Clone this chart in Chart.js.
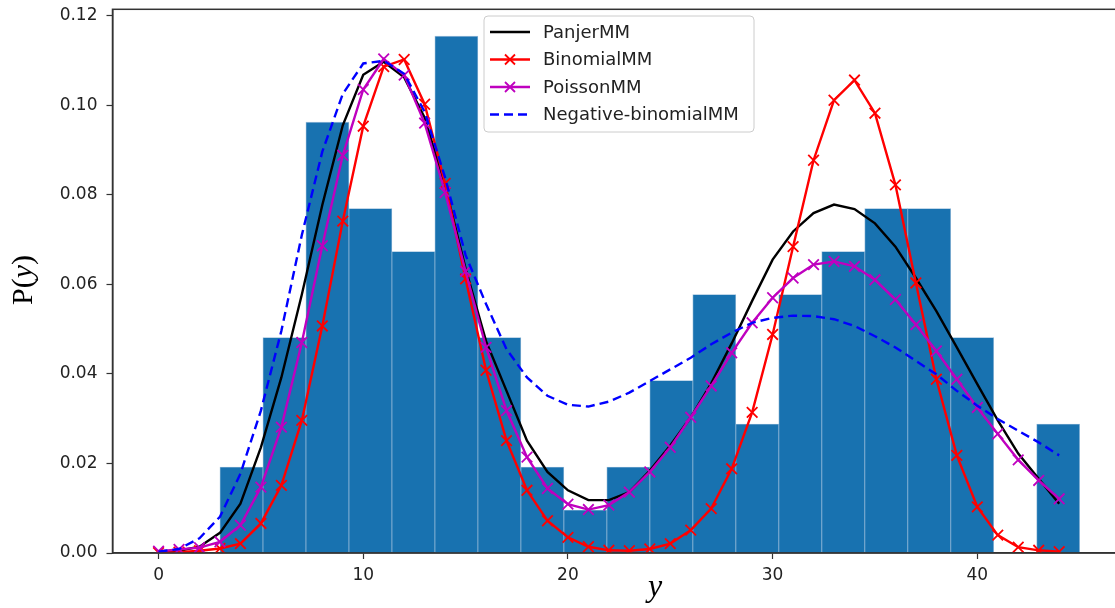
<!DOCTYPE html>
<html>
<head>
<meta charset="utf-8">
<script src="https://cdn.jsdelivr.net/npm/chart.js@4/dist/chart.umd.min.js"></script>
<style>
  html, body { margin: 0; padding: 0; overflow: hidden; background: #fff; }
  #wrap { position: relative; width: 1135px; height: 608px; }
</style>
</head>
<body>
<div id="wrap"><canvas id="chart" width="1135" height="608"></canvas></div>
<script>
// histogram bins (centres, width 2.1) and densities
var binCentres = [4.05, 6.15, 8.25, 10.35, 12.45, 14.55, 16.65, 18.75, 20.85, 22.95,
                  25.05, 27.15, 29.25, 31.35, 33.45, 35.55, 37.65, 39.75, 41.85, 43.95];
var binDensity = [0.0192, 0.0481, 0.0962, 0.0769, 0.0673, 0.1154, 0.0481, 0.0192, 0.0096, 0.0192,
                  0.0385, 0.0577, 0.0288, 0.0577, 0.0673, 0.0769, 0.0769, 0.0481, 0, 0.0288];

var ys = [0, 1, 2, 3, 4, 5, 6, 7, 8, 9, 10, 11, 12, 13, 14, 15, 16, 17, 18, 19, 20, 21, 22,
          23, 24, 25, 26, 27, 28, 29, 30, 31, 32, 33, 34, 35, 36, 37, 38, 39, 40, 41, 42, 43, 44];

var panjer = [0.0002, 0.0005, 0.0014, 0.0045, 0.0110, 0.0236, 0.0392, 0.0577, 0.0777, 0.0955,
              0.1068, 0.1097, 0.1062, 0.0972, 0.0820, 0.0635, 0.0473, 0.0362, 0.0251, 0.0181,
              0.0140, 0.0118, 0.0118, 0.0136, 0.0184, 0.0240, 0.0303, 0.0379, 0.0468, 0.0563,
              0.0655, 0.0718, 0.0759, 0.0778, 0.0768, 0.0736, 0.0684, 0.0614, 0.0540, 0.0459,
              0.0377, 0.0296, 0.0222, 0.0166, 0.0110];
var binomial = [0.0001, 0.0002, 0.0005, 0.0010, 0.0021, 0.0066, 0.0151, 0.0296, 0.0507, 0.0741,
                0.0953, 0.1086, 0.1102, 0.1002, 0.0825, 0.0612, 0.0408, 0.0251, 0.0140, 0.0072,
                0.0035, 0.0014, 0.0006, 0.0005, 0.0009, 0.0021, 0.0051, 0.0099, 0.0188, 0.0314,
                0.0488, 0.0684, 0.0877, 0.1011, 0.1056, 0.0982, 0.0822, 0.0603, 0.0388, 0.0218,
                0.0103, 0.0040, 0.0013, 0.0006, 0.0003];
var poisson = [0.0004, 0.0008, 0.0012, 0.0025, 0.0062, 0.0147, 0.0281, 0.0470, 0.0686, 0.0888,
               0.1035, 0.1103, 0.1067, 0.0960, 0.0805, 0.0629, 0.0459, 0.0318, 0.0214, 0.0144,
               0.0109, 0.0097, 0.0107, 0.0136, 0.0181, 0.0236, 0.0303, 0.0373, 0.0447, 0.0514,
               0.0570, 0.0614, 0.0644, 0.0651, 0.0640, 0.0610, 0.0566, 0.0510, 0.0451, 0.0388,
               0.0325, 0.0266, 0.0208, 0.0162, 0.0121];
var negbin = [0.0003, 0.0009, 0.0033, 0.0081, 0.0177, 0.0318, 0.0496, 0.0710, 0.0896, 0.1025,
              0.1093, 0.1099, 0.1070, 0.0985, 0.0838, 0.0665, 0.0556, 0.0455, 0.0392, 0.0351,
              0.0331, 0.0327, 0.0338, 0.0358, 0.0384, 0.0410, 0.0436, 0.0466, 0.0492, 0.0514,
              0.0525, 0.0530, 0.0529, 0.0522, 0.0507, 0.0484, 0.0459, 0.0429, 0.0399, 0.0362,
              0.0329, 0.0299, 0.0273, 0.0247, 0.0218];

var seriesNames = ['PanjerMM', 'BinomialMM', 'PoissonMM', 'Negative-binomialMM'];
var yTicks = [0, 0.02, 0.04, 0.06, 0.08, 0.10, 0.12];
var xTicks = [0, 10, 20, 30, 40];

function pts(xs, vs) {
  var out = [];
  for (var i = 0; i < xs.length; i++) out.push({x: xs[i], y: vs[i]});
  return out;
}

var tickFont = {family: '"DejaVu Sans", sans-serif', size: 17};

// frame + custom legend + axis titles
var extras = {
  id: 'extras',
  afterDraw: function (chart) {
    var ctx = chart.ctx, a = chart.chartArea;
    ctx.save();
    ctx.strokeStyle = '#333';
    ctx.lineWidth = 1.5;
    ctx.strokeRect(a.left, a.top, a.right - a.left, a.bottom - a.top);

    // legend
    var bx = 484, by = 16, bw = 270, bh = 116;
    ctx.fillStyle = 'rgba(255,255,255,0.85)';
    ctx.strokeStyle = '#cccccc';
    ctx.lineWidth = 1;
    ctx.beginPath();
    ctx.roundRect(bx, by, bw, bh, 4);
    ctx.fill();
    ctx.stroke();
    var ds = chart.data.datasets.slice(1);
    for (var i = 0; i < ds.length; i++) {
      var yy = 32 + i * 27.5;
      ctx.strokeStyle = ds[i].borderColor;
      ctx.lineWidth = 2.4;
      ctx.setLineDash(ds[i].borderDash || []);
      ctx.beginPath();
      ctx.moveTo(490, yy);
      ctx.lineTo(530, yy);
      ctx.stroke();
      ctx.setLineDash([]);
      if (ds[i].pointRadius > 0) {
        var r = 5;
        ctx.lineWidth = 1.8;
        ctx.beginPath();
        ctx.moveTo(510 - r, yy - r); ctx.lineTo(510 + r, yy + r);
        ctx.moveTo(510 - r, yy + r); ctx.lineTo(510 + r, yy - r);
        ctx.stroke();
      }
      ctx.fillStyle = '#222';
      ctx.font = '18px "DejaVu Sans", sans-serif';
      ctx.textBaseline = 'middle';
      ctx.textAlign = 'left';
      ctx.fillText(ds[i].label, 543, yy + 1);
    }

    // x title: italic y
    ctx.fillStyle = '#000';
    ctx.font = 'italic 32px "Liberation Serif", serif';
    ctx.textAlign = 'center';
    ctx.textBaseline = 'middle';
    ctx.fillText('y', 655, 588);

    // y title: P(y)
    ctx.translate(24, 280);
    ctx.rotate(-Math.PI / 2);
    var f1 = '30px "Liberation Serif", serif', f2 = 'italic 30px "Liberation Serif", serif';
    ctx.font = f1; var w1 = ctx.measureText('P(').width, w3 = ctx.measureText(')').width;
    ctx.font = f2; var w2 = ctx.measureText('y').width;
    var x0 = -(w1 + w2 + w3) / 2;
    ctx.textAlign = 'left';
    ctx.font = f1; ctx.fillText('P(', x0, 0);
    ctx.font = f2; ctx.fillText('y', x0 + w1, 0);
    ctx.font = f1; ctx.fillText(')', x0 + w1 + w2, 0);
    ctx.restore();
  }
};

var lineBase = {type: 'line', borderWidth: 2.4, pointStyle: 'crossRot', pointBorderWidth: 1.8,
                fill: false, tension: 0};

new Chart(document.getElementById('chart'), {
  type: 'bar',
  data: {
    datasets: [
      {
        type: 'bar', label: 'hist', data: pts(binCentres, binDensity),
        backgroundColor: '#1872b0', borderColor: 'rgba(100,155,200,0.7)', borderWidth: 0.8,
        barPercentage: 1, categoryPercentage: 1, grouped: false, order: 10
      },
      Object.assign({}, lineBase, {label: seriesNames[0], data: pts(ys, panjer),
        borderColor: '#000000', pointRadius: 0, order: 4}),
      Object.assign({}, lineBase, {label: seriesNames[1], data: pts(ys, binomial),
        borderColor: '#ff0000', pointBorderColor: '#ff0000', pointRadius: 7.5, order: 3}),
      Object.assign({}, lineBase, {label: seriesNames[2], data: pts(ys, poisson),
        borderColor: '#bf00bf', pointBorderColor: '#bf00bf', pointRadius: 7.5, order: 2}),
      Object.assign({}, lineBase, {label: seriesNames[3], data: pts(ys, negbin),
        borderColor: '#0000ff', borderDash: [9, 5], pointRadius: 0, order: 1})
    ]
  },
  options: {
    responsive: false,
    animation: false,
    devicePixelRatio: 1,
    layout: {padding: {top: 4, right: 4, left: 0, bottom: 0}},
    plugins: {legend: {display: false}, tooltip: {enabled: false}},
    scales: {
      x: {
        type: 'linear', min: -2.25, max: 47.25, offset: false,
        afterFit: function (s) { s.height = 55; s.paddingLeft = 0; s.paddingRight = 0; },
        afterBuildTicks: function (s) { s.ticks = xTicks.map(function (v) { return {value: v}; }); },
        grid: {drawOnChartArea: false, drawTicks: true, tickLength: 6, tickColor: '#333', tickWidth: 1.2, offset: false},
        border: {display: true, color: '#333', width: 1.5},
        ticks: {font: tickFont, color: '#222', padding: 6, maxRotation: 0}
      },
      y: {
        type: 'linear', min: 0, max: 0.1214,
        afterFit: function (s) { s.width = 112.5; s.paddingTop = 0; s.paddingBottom = 0; },
        afterBuildTicks: function (s) { s.ticks = yTicks.map(function (v) { return {value: v}; }); },
        grid: {drawOnChartArea: false, drawTicks: true, tickLength: 6, tickColor: '#333', tickWidth: 1.2},
        border: {display: true, color: '#333', width: 1.5},
        ticks: {font: tickFont, color: '#222', padding: 9,
                callback: function (v) { return v.toFixed(2); }}
      }
    }
  },
  plugins: [extras]
});
</script>
</body>
</html>
